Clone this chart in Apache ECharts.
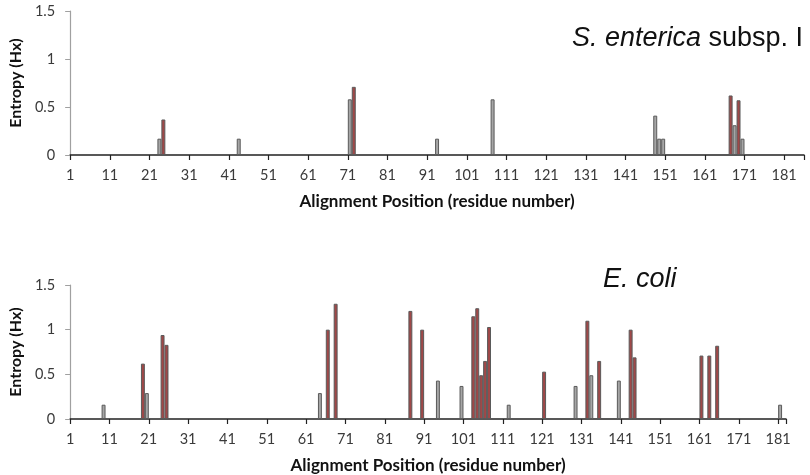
<!DOCTYPE html>
<html>
<head>
<meta charset="utf-8">
<script src="https://cdn.jsdelivr.net/npm/echarts@6/dist/echarts.min.js"></script>
<style>
html,body{margin:0;padding:0;background:#fff;}
#c{width:810px;height:475px;}
</style>
</head>
<body>
<div id="c"></div>
<script>
// ---- data ----
const topCount = 185;
const bottomCount = 182;
const topCategories = Array.from({length: topCount}, (_, i) => String(i + 1));
const bottomCategories = Array.from({length: bottomCount}, (_, i) => String(i + 1));

const topGrayPos = [23, 43, 71, 93, 107, 148, 149, 150, 168, 170];
const topGrayVal = [0.17, 0.17, 0.58, 0.17, 0.58, 0.41, 0.17, 0.17, 0.31, 0.17];
const topRedPos = [24, 72, 167, 169];
const topRedVal = [0.37, 0.71, 0.62, 0.57];

const bottomGrayPos = [9, 20, 64, 94, 100, 112, 129, 133, 140, 181];
const bottomGrayVal = [0.16, 0.29, 0.29, 0.43, 0.37, 0.16, 0.37, 0.49, 0.43, 0.16];
const bottomRedPos = [19, 24, 25, 66, 68, 87, 90, 103, 104, 105, 106, 107, 121, 132, 135, 143, 144, 161, 163, 165];
const bottomRedVal = [0.62, 0.94, 0.83, 1.0, 1.29, 1.21, 1.0, 1.15, 1.24, 0.49, 0.65, 1.03, 0.53, 1.10, 0.65, 1.0, 0.69, 0.71, 0.71, 0.82];

const yTicks = [0, 0.5, 1, 1.5];

function fill(n, pos, val) {
  const a = new Array(n).fill('-');
  pos.forEach((p, k) => { a[p - 1] = val[k]; });
  return a;
}

const labelFont = 'Lato';
const grayFill = '#a6a6a6';
const redFill = '#a04848';
const border = '#5a5a5a';

function xAxis(gridIndex, cats) {
  return {
    type: 'category', gridIndex: gridIndex, data: cats, boundaryGap: true,
    name: 'Alignment Position (residue number)', nameLocation: 'middle', nameGap: 38,
    nameTextStyle: {fontFamily: labelFont, fontWeight: 'bold', fontSize: 17, color: '#111'},
    axisLine: {show: true, lineStyle: {color: '#222', width: 1.5}},
    axisTick: {show: true, alignWithLabel: false, length: 5, interval: (i) => i % 10 === 0, lineStyle: {color: '#222', width: 1.2}},
    axisLabel: {interval: (i) => i % 10 === 0, fontFamily: labelFont, fontSize: 14.5, color: '#3a3a3a', margin: 13, padding: [0, 4, 0, 0]},
    splitLine: {show: false}
  };
}
function yAxis(gridIndex, gap) {
  return {
    type: 'value', gridIndex: gridIndex, min: yTicks[0], max: yTicks[yTicks.length - 1], interval: 0.5,
    name: 'Entropy (Hx)', nameLocation: 'middle', nameGap: gap, nameRotate: 90,
    nameTextStyle: {fontFamily: labelFont, fontWeight: 'bold', fontSize: 16, color: '#111'},
    axisLine: {show: true, lineStyle: {color: '#a0a0a0', width: 1.2}},
    axisTick: {show: true, length: 5, lineStyle: {color: '#a0a0a0'}},
    axisLabel: {fontFamily: labelFont, fontSize: 14.5, color: '#3a3a3a', margin: 15},
    splitLine: {show: false}
  };
}
function bar(xi, yi, data, color) {
  return {
    type: 'bar', xAxisIndex: xi, yAxisIndex: yi, data: data,
    barWidth: '100%', barGap: '-100%',
    itemStyle: {color: color, borderColor: border, borderWidth: 1},
    silent: true, animation: false
  };
}

const chart = echarts.init(document.getElementById('c'), null, {renderer: 'canvas'});
chart.setOption({
  backgroundColor: '#ffffff',
  animation: false,
  title: [
    {text: '{i|S. enterica}{n| subsp. I}', left: 567, top: 20,
     textStyle: {fontWeight: 'normal', rich: {
       i: {fontFamily: 'Liberation Sans', fontStyle: 'italic', fontWeight: 'normal', fontSize: 27, color: '#111'},
       n: {fontFamily: 'Liberation Sans', fontStyle: 'normal', fontWeight: 'normal', fontSize: 27, color: '#111'}}}},
    {text: 'E. coli', left: 598, top: 261,
     textStyle: {fontFamily: 'Liberation Sans', fontStyle: 'italic', fontWeight: 'normal', fontSize: 27, color: '#111'}}
  ],
  grid: [
    {left: 63, right: 6, top: 11, height: 144, containLabel: false},
    {left: 68, right: 24, top: 285, height: 134, containLabel: false}
  ],
  xAxis: [xAxis(0, topCategories), xAxis(1, bottomCategories)],
  yAxis: [yAxis(0, 42), yAxis(1, 46)],
  series: [
    bar(0, 0, fill(topCount, topGrayPos, topGrayVal), grayFill),
    bar(0, 0, fill(topCount, topRedPos, topRedVal), redFill),
    bar(1, 1, fill(bottomCount, bottomGrayPos, bottomGrayVal), grayFill),
    bar(1, 1, fill(bottomCount, bottomRedPos, bottomRedVal), redFill)
  ]
});
</script>
</body>
</html>
